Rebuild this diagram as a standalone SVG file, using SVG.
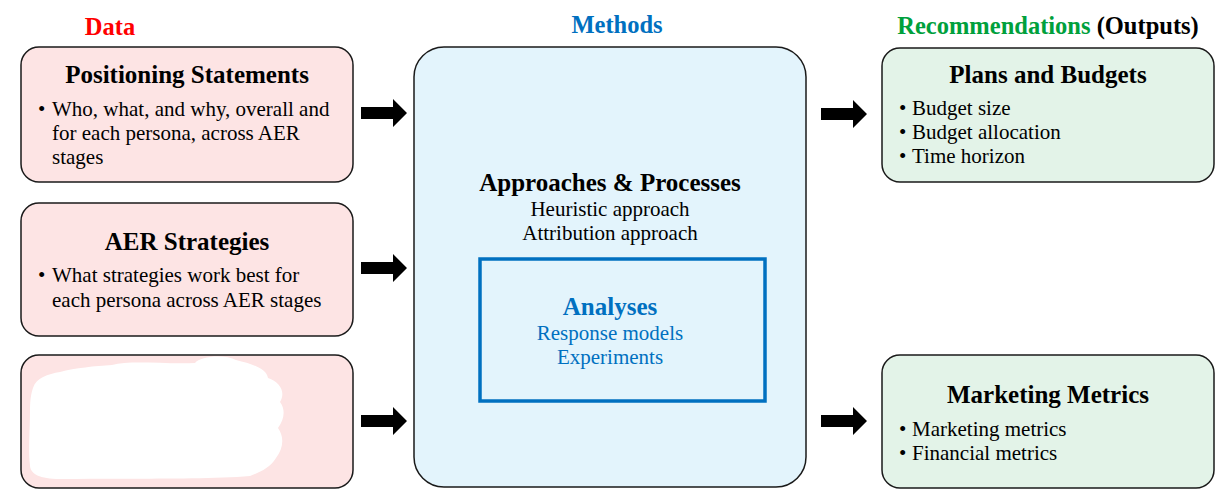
<svg xmlns="http://www.w3.org/2000/svg" width="1226" height="500" viewBox="0 0 1226 500">
<style>
text{font-family:"Liberation Serif","Times New Roman",serif;fill:#000}
.hd{font-size:24.5px;font-weight:bold;text-anchor:middle}
.tt{font-size:25px;font-weight:bold;text-anchor:middle}
.bd{font-size:21px}
.ct{font-size:21px;text-anchor:middle}
.data{fill:#fde4e4;stroke:#1a1a1a;stroke-width:1.5}
.out{fill:#e3f3e8;stroke:#1a1a1a;stroke-width:1.5}
.blue{fill:#0070c0}
.arr{fill:#000}
</style>
<rect width="1226" height="500" fill="#fff"/>
<text class="hd" x="110" y="35" style="fill:#ff0000">Data</text>
<text class="hd" x="617" y="33" style="fill:#0070c0">Methods</text>
<text class="hd" x="1048" y="34"><tspan style="fill:#00a03c">Recommendations</tspan> (Outputs)</text>

<g id="positioning">
<rect class="data" x="21" y="47" width="332" height="135" rx="18"/>
<text class="tt" x="187" y="83">Positioning Statements</text>
<text class="bd" x="38" y="116">•</text>
<text class="bd" x="52" y="116">Who, what, and why, overall and</text>
<text class="bd" x="52" y="140">for each persona, across AER</text>
<text class="bd" x="52" y="164">stages</text>
</g>
<g id="aer">
<rect class="data" x="21" y="203" width="332" height="133" rx="18"/>
<text class="tt" x="187" y="250">AER Strategies</text>
<text class="bd" x="38" y="282">•</text>
<text class="bd" x="52" y="282">What strategies work best for</text>
<text class="bd" x="52" y="307">each persona across AER stages</text>
</g>
<g id="data3">
<rect class="data" x="21" y="355" width="332" height="133" rx="18"/>
<path fill="#fff" d="M33,388 C36,378 48,374 60,372 C75,368 95,366 112,365 C130,360 160,364 195,363 C200,356 225,354 236,360 C252,364 266,368 268,378 C280,382 286,392 280,402 C286,410 284,420 278,428 C284,436 284,448 276,458 C270,468 260,472 250,476 C200,480 120,478 60,479 C40,479 30,474 30,465 C28,450 30,430 30,410 C30,400 31,394 33,388 Z"/>
</g>

<g id="methods">
<rect x="414" y="47" width="392" height="440" rx="30" fill="#e3f4fc" stroke="#1a1a1a" stroke-width="1.5"/>
<text class="tt" x="610" y="191">Approaches &amp; Processes</text>
<text class="ct" x="610" y="216">Heuristic approach</text>
<text class="ct" x="610" y="240">Attribution approach</text>
</g>
<g id="analyses">
<rect x="480" y="259" width="285" height="142" fill="none" stroke="#0070c0" stroke-width="3.5"/>
<text class="tt blue" x="610" y="315">Analyses</text>
<text class="ct blue" x="610" y="340">Response models</text>
<text class="ct blue" x="610" y="364">Experiments</text>
</g>

<g id="plans">
<rect class="out" x="882" y="48" width="332" height="134" rx="18"/>
<text class="tt" x="1048" y="83">Plans and Budgets</text>
<text class="bd" x="899" y="115">•</text><text class="bd" x="912" y="115">Budget size</text>
<text class="bd" x="899" y="139">•</text><text class="bd" x="912" y="139">Budget allocation</text>
<text class="bd" x="899" y="163">•</text><text class="bd" x="912" y="163">Time horizon</text>
</g>
<g id="metrics">
<rect class="out" x="882" y="355" width="332" height="133" rx="18"/>
<text class="tt" x="1048" y="403">Marketing Metrics</text>
<text class="bd" x="899" y="436">•</text><text class="bd" x="912" y="436">Marketing metrics</text>
<text class="bd" x="899" y="460">•</text><text class="bd" x="912" y="460">Financial metrics</text>
</g>

<g id="connectors">
<path class="arr" d="M361,107 H393 V99 L407,113 L393,127 V119 H361 Z"/>
<path class="arr" d="M361,262 H393 V254 L407,268 L393,282 V274 H361 Z"/>
<path class="arr" d="M361,415 H393 V407 L407,421 L393,435 V427 H361 Z"/>
<path class="arr" d="M821,108 H853 V100 L867,114 L853,128 V120 H821 Z"/>
<path class="arr" d="M821,415 H853 V407 L867,421 L853,435 V427 H821 Z"/>
</g>
</svg>
